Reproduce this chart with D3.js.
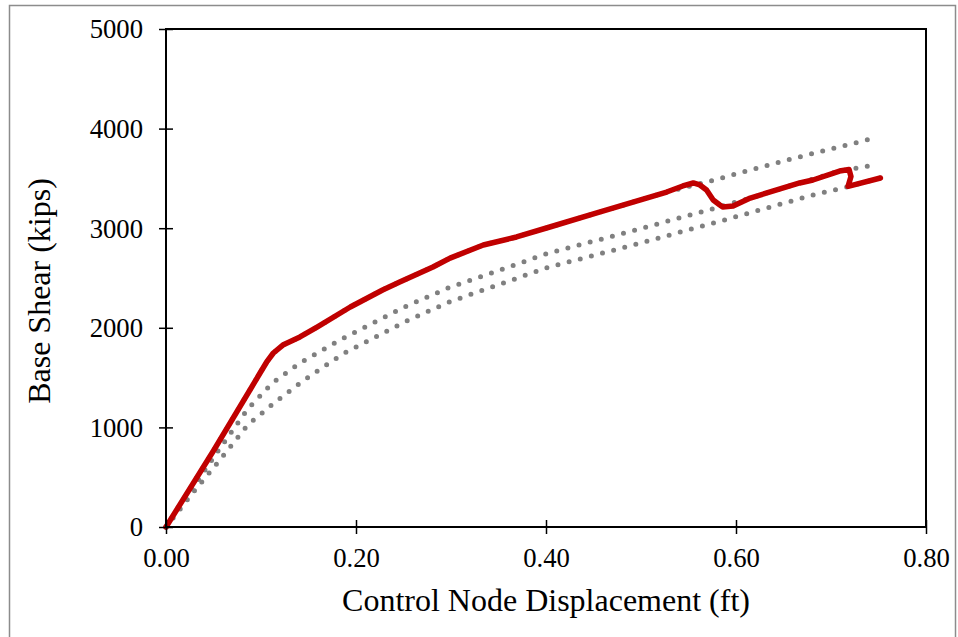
<!DOCTYPE html>
<html>
<head>
<meta charset="utf-8">
<script src="https://cdn.jsdelivr.net/npm/d3@7"></script>
<style>
  body { margin: 0; background: #fff; }
  svg { display: block; }
</style>
</head>
<body>
<div id="chart_div"></div>
<script>
// displacement (ft), base shear (kips)
var red_pts = [[0,0],[0.05,765],[0.099,1546],[0.106,1657],[0.113,1747],[0.123,1827],[0.141,1908],
  [0.159,2008],[0.194,2209],[0.228,2380],[0.246,2460],[0.281,2610],[0.299,2700],[0.334,2831],
  [0.369,2912],[0.404,3012],[0.457,3163],[0.527,3363],[0.544,3424],[0.555,3454],[0.562,3434],
  [0.569,3384],[0.576,3283],[0.583,3233],[0.586,3213],[0.597,3223],[0.615,3303],[0.667,3454],
  [0.681,3484],[0.709,3574],[0.719,3590],[0.721,3520],[0.718,3420],[0.752,3504]];

var gray1_pts = [[0,0],[0.05,765],[0.099,1546],[0.106,1657],[0.113,1747],[0.123,1827],[0.141,1908],
  [0.159,2008],[0.194,2209],[0.228,2380],[0.246,2460],[0.281,2610],[0.299,2700],[0.334,2831],
  [0.369,2912],[0.404,3012],[0.457,3163],[0.527,3363],[0.573,3474],[0.658,3695],[0.742,3896]];

var gray2_pts = [[0,0],[0.028,390],[0.057,793],[0.086,1185],[0.112,1446],[0.141,1647],[0.185,1888],
  [0.251,2209],[0.297,2400],[0.403,2751],[0.475,2932],[0.571,3183],[0.615,3303],[0.667,3454],
  [0.709,3574],[0.719,3590],[0.739,3624]];

var gray3_pts = [[0,0],[0.028,340],[0.055,653],[0.086,1024],[0.115,1255],[0.144,1466],[0.186,1737],
  [0.253,2068],[0.298,2259],[0.403,2610],[0.476,2791],[0.584,3072],[0.681,3333],[0.717,3414],
  [0.752,3504]];

var x_ticks = [0, 0.2, 0.4, 0.6, 0.8];
var y_ticks = [0, 1000, 2000, 3000, 4000, 5000];

var chart_width = 958;
var chart_height = 637;
var chart = d3.select("#chart_div").append("svg")
    .attr("width", chart_width)
    .attr("height", chart_height);

// outer frame
chart.append("rect")
    .attr("x", 9.5).attr("y", 5.5)
    .attr("width", 946).attr("height", 640)
    .attr("fill", "none")
    .attr("stroke", "#8c8c8c")
    .attr("stroke-width", 1.5);

var x = d3.scaleLinear().domain([0, 0.8]).range([166, 926]);
var y = d3.scaleLinear().domain([0, 5000]).range([527, 29]);

var line = d3.line()
    .x(function(d) { return x(d[0]); })
    .y(function(d) { return y(d[1]); });

// gray dotted series
[gray1_pts, gray2_pts, gray3_pts].forEach(function(pts) {
    chart.append("path")
        .attr("d", line(pts))
        .attr("fill", "none")
        .attr("stroke", "#808080")
        .attr("stroke-width", 5)
        .attr("stroke-linecap", "round")
        .attr("stroke-dasharray", "0 11.5");
});

chart.append("path")
    .attr("d", line(red_pts))
    .attr("fill", "none")
    .attr("stroke", "#c00000")
    .attr("stroke-width", 5.5)
    .attr("stroke-linejoin", "round")
    .attr("stroke-linecap", "round");

// plot box
chart.append("rect")
    .attr("x", 166).attr("y", 29)
    .attr("width", 760).attr("height", 498)
    .attr("fill", "none")
    .attr("stroke", "#000")
    .attr("stroke-width", 2);

var font = "'Liberation Serif', 'Times New Roman', serif";

var x_axis = chart.append("g")
    .attr("transform", "translate(0,527)")
    .call(d3.axisBottom(x).tickValues(x_ticks).tickSize(7).tickPadding(0)
        .tickFormat(d3.format(".2f")));
x_axis.select(".domain").remove();
x_axis.selectAll("line").attr("y1", -7).attr("y2", 7).attr("stroke-width", 1.5);
x_axis.selectAll("text")
    .attr("y", 40).attr("dy", null)
    .style("font-family", font).style("font-size", "26.7px").attr("fill", "#000");

var y_axis = chart.append("g")
    .attr("transform", "translate(166,0)")
    .call(d3.axisLeft(y).tickValues(y_ticks).tickSize(7).tickPadding(0)
        .tickFormat(d3.format("d")));
y_axis.select(".domain").remove();
y_axis.selectAll("line").attr("x1", 7).attr("x2", -7).attr("stroke-width", 1.5);
y_axis.selectAll("text")
    .attr("x", -23).attr("dy", "0.33em")
    .style("font-family", font).style("font-size", "26.7px").attr("fill", "#000");

chart.append("text")
    .attr("x", 546).attr("y", 611)
    .attr("text-anchor", "middle")
    .style("font-family", font).style("font-size", "32px")
    .text("Control Node Displacement (ft)");

chart.append("text")
    .attr("transform", "translate(50,291) rotate(-90)")
    .attr("text-anchor", "middle")
    .style("font-family", font).style("font-size", "32px")
    .text("Base Shear (kips)");
</script>
</body>
</html>
